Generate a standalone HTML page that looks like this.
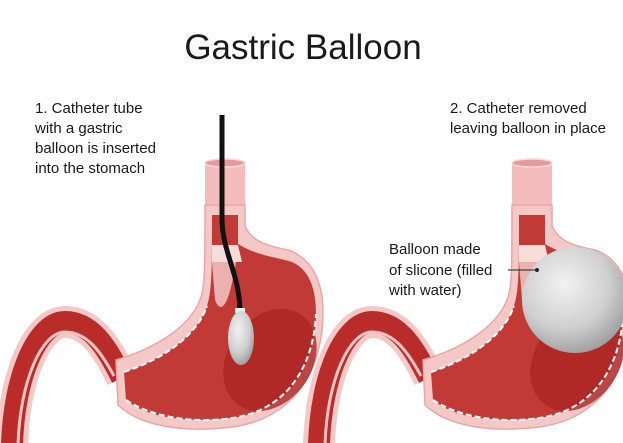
<!DOCTYPE html>
<html><head><meta charset="utf-8"><style>
html,body{margin:0;padding:0;background:#fff;}
svg{display:block;}
text{font-family:"Liberation Sans",sans-serif;fill:#1a1a1a;}
</style></head><body>
<svg width="623" height="443" viewBox="0 0 623 443" xmlns="http://www.w3.org/2000/svg">
<defs>
<radialGradient id="bg1" cx="0.4" cy="0.35" r="0.7">
<stop offset="0" stop-color="#f2f2f2"/><stop offset="0.6" stop-color="#cfcfcf"/><stop offset="1" stop-color="#9a9a9a"/>
</radialGradient>
<g id="stomach">
<path d="M12,445 C14,375 38,322 65,322 C90,322 106,345 122,378" fill="none" stroke="#f3c9c7" stroke-width="32"/>
<path d="M12,445 C14,375 38,322 65,322 C90,322 106,345 122,378" fill="none" stroke="#b92c2a" stroke-width="22"/>
<path d="M18,445 C20,380 42,332 65,332 C86,332 100,350 114,376" fill="none" stroke="#f1c3c1" stroke-width="3"/>
<rect x="205" y="163" width="40" height="60" fill="#f4bcbd"/>
<ellipse cx="225" cy="163" rx="20" ry="4" fill="#e59a9c" stroke="#f8d8d8" stroke-width="1.5"/>
<path d="M205,205 L245,205 L245,226 C252,242 268,246 288,250 C312,258 323,282 323,312 C323,365 298,418 232,427 C182,433 140,426 118,405 L116,360 C150,350 188,330 200,300 C205,288 205,270 205,205 Z" fill="#f4c8c6" stroke="#e7a7a6" stroke-width="1.5"/>
<path d="M212,215 L238,215 L238,244 C258,256 276,257 292,262 C310,270 316,290 316,314 C316,362 292,410 232,418 C185,423 148,418 126,400 L124,372 C160,360 196,338 207,306 C212,290 212,270 212,215 Z" fill="#c23a36"/>
<ellipse cx="270" cy="360" rx="42" ry="55" transform="rotate(35 270 360)" fill="#ab2624" opacity="0.8"/>
<path d="M212,245 L238,245 L242,262 L212,262 Z" fill="#f7dcda"/>
<path d="M212,262 L236,262 C230,300 222,318 215,300 Z" fill="#f5d0ce" opacity="0.8"/>
<path d="M126,400 C150,416 190,424 232,418 C290,410 314,362 316,314" fill="none" stroke="#fff" stroke-width="2" stroke-dasharray="6 3"/>
<path d="M124,372 C160,360 196,338 207,306" fill="none" stroke="#fff" stroke-width="2" stroke-dasharray="6 3"/>
</g>
</defs>

<text x="303" y="59" font-size="35" text-anchor="middle">Gastric Balloon</text>

<use href="#stomach"/>
<use href="#stomach" transform="translate(307,0)"/>

<path d="M222,115 L222,218 C222,252 239,272 240,310" fill="none" stroke="#111" stroke-width="5"/>
<rect x="235" y="308" width="10" height="5" fill="#eee"/>
<ellipse cx="241" cy="338" rx="13" ry="27" fill="url(#bg1)"/>

<circle cx="575" cy="300" r="53" fill="url(#bg1)"/>
<line x1="508" y1="270" x2="537" y2="270" stroke="#222" stroke-width="1"/>
<circle cx="537" cy="270" r="2" fill="#222"/>

<g font-size="15">
<text x="35" y="113">1. Catheter tube</text>
<text x="35" y="133">with a gastric</text>
<text x="35" y="153">balloon is inserted</text>
<text x="35" y="173">into the stomach</text>
<text x="450" y="113">2. Catheter removed</text>
<text x="450" y="133">leaving balloon in place</text>
<text x="389" y="254">Balloon made</text>
<text x="389" y="275">of slicone (filled</text>
<text x="389" y="295">with water)</text>
</g>
</svg>
</body></html>
